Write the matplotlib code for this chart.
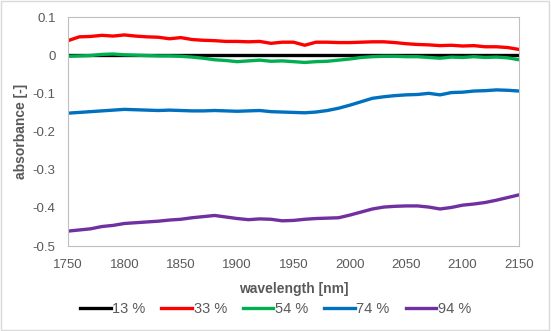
import numpy as np
import matplotlib.pyplot as plt

plt.rcParams['font.family'] = ['Liberation Sans', 'DejaVu Sans']

wavelength = np.arange(1750, 2151, 10)

a13 = [0.0] * 41
a33 = [0.038, 0.048, 0.049, 0.052, 0.050, 0.053, 0.050, 0.048, 0.047, 0.043,
       0.046, 0.041, 0.039, 0.038, 0.036, 0.036, 0.035, 0.036, 0.031, 0.034,
       0.034, 0.026, 0.034, 0.034, 0.033, 0.033, 0.034, 0.035, 0.035, 0.033,
       0.030, 0.028, 0.027, 0.025, 0.026, 0.024, 0.025, 0.022, 0.022, 0.020,
       0.015]
a54 = [-0.003, -0.002, -0.001, 0.002, 0.003, 0.001, 0.000, -0.001, -0.002, -0.002,
       -0.003, -0.005, -0.008, -0.012, -0.014, -0.017, -0.015, -0.013, -0.016, -0.015,
       -0.017, -0.019, -0.017, -0.016, -0.013, -0.010, -0.006, -0.004, -0.003, -0.003,
       -0.004, -0.004, -0.006, -0.008, -0.005, -0.006, -0.004, -0.006, -0.005, -0.007,
       -0.012]
a74 = [-0.152, -0.150, -0.148, -0.146, -0.144, -0.142, -0.143, -0.144, -0.145, -0.144,
       -0.145, -0.146, -0.146, -0.145, -0.146, -0.147, -0.146, -0.145, -0.148, -0.149,
       -0.150, -0.151, -0.149, -0.145, -0.139, -0.131, -0.122, -0.113, -0.109, -0.106,
       -0.104, -0.103, -0.100, -0.104, -0.098, -0.097, -0.094, -0.093, -0.091, -0.092,
       -0.094]
a94 = [-0.461, -0.458, -0.455, -0.449, -0.446, -0.441, -0.439, -0.437, -0.435, -0.432,
       -0.430, -0.426, -0.423, -0.420, -0.424, -0.428, -0.431, -0.429, -0.430, -0.434,
       -0.433, -0.430, -0.428, -0.427, -0.426, -0.419, -0.411, -0.403, -0.398, -0.396,
       -0.395, -0.395, -0.398, -0.403, -0.399, -0.393, -0.390, -0.386, -0.380, -0.373,
       -0.366]

labels = ['13 %', '33 %', '54 %', '74 %', '94 %']
colors = ['#000000', '#ff0000', '#00b050', '#0070c0', '#7030a0']
series = [a13, a33, a54, a74, a94]

fig = plt.figure(figsize=(5.51, 3.31), dpi=100)
ax = fig.add_axes([68/551, 1 - 246/331, (519-68)/551, (246-17)/331])

for s, c, l in zip(series, colors, labels):
    ax.plot(wavelength, s, color=c, lw=2.4, label=l)

ax.set_xlim(1750, 2150)
ax.set_ylim(-0.5, 0.1)
ax.set_xticks(np.arange(1750, 2151, 50))
ax.set_yticks([-0.5, -0.4, -0.3, -0.2, -0.1, 0, 0.1])
ax.set_yticklabels(['-0.5', '-0.4', '-0.3', '-0.2', '-0.1', '0', '0.1'])
ax.tick_params(length=0, colors='#595959', labelsize=9.5, pad=9)
for sp in ax.spines.values():
    sp.set_color('#bfbfbf')

ax.set_xlabel('wavelength [nm]', fontsize=10, fontweight='bold', color='#595959', labelpad=8)
ax.set_ylabel('absorbance [-]', fontsize=10, fontweight='bold', color='#595959', labelpad=3)

leg = fig.legend(loc='center', bbox_to_anchor=(0.5, 1 - 309/331), ncol=5,
                 frameon=False, fontsize=10.5, handlelength=2.1, columnspacing=1.1,
                 handletextpad=0.1)
for t in leg.get_texts():
    t.set_color('#595959')

fig.patches.append(plt.Rectangle((0.002, 0.003), 0.995, 0.993, transform=fig.transFigure,
                                 fill=False, edgecolor='#d9d9d9', lw=1))

fig.savefig('out.png', dpi=100)
